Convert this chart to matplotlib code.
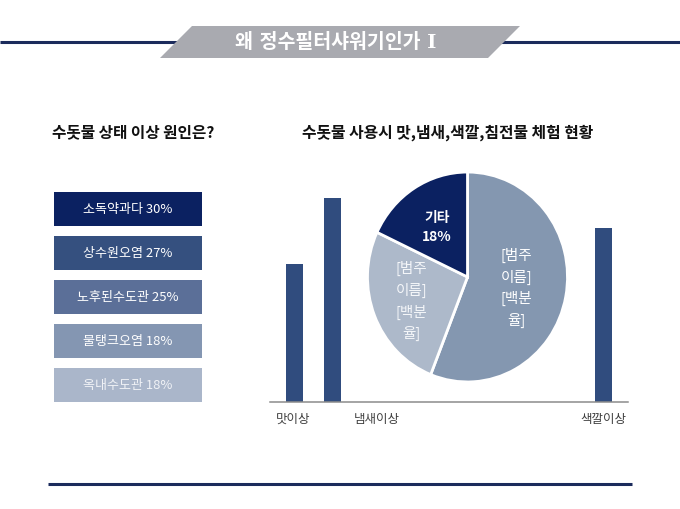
import matplotlib
matplotlib.use("Agg")
import matplotlib.pyplot as plt
from matplotlib.patches import Polygon
import numpy as np

plt.rcParams['font.family'] = ['Noto Sans CJK KR', 'DejaVu Sans']

# --- data ---
page_title = '왜 정수필터샤워기인가 Ⅰ'
left_title = '수돗물 상태 이상 원인은?'
right_title = '수돗물 사용시 맛,냄새,색깔,침전물 체험 현황'

cause_names = ['소독약과다', '상수원오염', '노후된수도관', '물탱크오염', '옥내수도관']
cause_pcts = [30, 27, 25, 18, 18]

bar_values = [46, 68, 58]
bar_ticklabels = ['맛이상', '냄새이상', '색깔이상']

pie_values = [56, 26, 18]
pie_labels = ['[범주\n이름]\n[백분\n율]', '[범주\n이름]\n[백분\n율]', '기타\n18%']

# --- style / layout ---
W, H = 680, 510
navy = '#0b2161'
line_col = '#1b2b5c'
box_colors = ['#0b2161', '#35507f', '#5b6f98', '#8496b2', '#aab6ca']
box_text_colors = ['white', 'white', 'white', 'white', '#f0f2f6']
bar_color = '#304c7e'
pie_colors = ['#8497b0', '#adb9ca', navy]
bar_pos = [24.5, 62.7, 333.3]      # px inside bar axes
tick_pos = [23, 107, 333]


def fig_rect(left, top, right, bottom):
    return [left / W, (H - bottom) / H, (right - left) / W, (bottom - top) / H]


fig = plt.figure(figsize=(6.8, 5.1), dpi=100)

# background / decorations in pixel coordinates
bg = fig.add_axes([0, 0, 1, 1], zorder=0)
bg.set_xlim(0, W)
bg.set_ylim(H, 0)
bg.axis('off')
bg.plot([0, W], [43, 43], color=line_col, lw=2.2, solid_capstyle='butt')
bg.add_patch(Polygon([(160, 59), (192, 27), (520, 27), (488, 59)],
                     closed=True, facecolor='#a9aab0', edgecolor='none', zorder=3))
bg.text(336, 43, page_title, color='white', fontsize=14, fontweight='bold',
        family=['DejaVu Serif', 'Noto Sans CJK KR'],
        ha='center', va='center', zorder=4)
bg.plot([48, 632], [485, 485], color=line_col, lw=2.2, solid_capstyle='butt')
bg.text(52, 132, left_title, fontsize=11.3, fontweight='bold', color='#111111',
        ha='left', va='center')
bg.text(447.5, 133, right_title, fontsize=11.4, fontweight='bold', color='#111111',
        ha='center', va='center')

# left: stacked label boxes
n = len(cause_names)
axb = fig.add_axes(fig_rect(54, 193, 202, 403), zorder=1)
axb.patch.set_visible(False)
axb.barh(range(n), [1] * n, height=34 / 44, left=0, color=box_colors)
axb.set_xlim(0, 1)
axb.set_ylim(n - 1 + 17 / 44, -17 / 44)
axb.axis('off')
for i, (name, pct) in enumerate(zip(cause_names, cause_pcts)):
    axb.text(0.5, i, f'{name} {pct}%', color=box_text_colors[i], fontsize=9.4,
             ha='center', va='center')

# right: bars
axc = fig.add_axes(fig_rect(270, 163, 628, 403), zorder=1)
axc.patch.set_visible(False)
axc.bar(bar_pos, bar_values, width=17.5, color=bar_color)
axc.set_xlim(0, 358)
axc.set_ylim(0, 80)
for s in ['top', 'left', 'right']:
    axc.spines[s].set_visible(False)
axc.spines['bottom'].set_color('#8c8c8c')
axc.spines['bottom'].set_linewidth(1.1)
axc.set_yticks([])
axc.set_xticks(tick_pos)
axc.set_xticklabels(bar_ticklabels, fontsize=9, color='#404040')
axc.tick_params(axis='x', length=0, pad=7)

# right: pie
axp = fig.add_axes(fig_rect(366.5, 172, 568.5, 384), zorder=2)
wedges, _ = axp.pie(pie_values, colors=pie_colors, startangle=90, counterclock=False,
                    wedgeprops=dict(edgecolor='white', linewidth=2))
axp.set_aspect('auto')
axp.set_xlim(-1.01, 1.01)
axp.set_ylim(-1.01, 1.01)
axp.axis('off')

label_dist = [0.5, 0.6, 0.57]
for i, (w, lab, d) in enumerate(zip(wedges, pie_labels, label_dist)):
    ang = np.deg2rad((w.theta1 + w.theta2) / 2)
    x, y = d * np.cos(ang), d * np.sin(ang)
    if i == 2:
        axp.text(x, y, lab, color='white', fontsize=10, fontweight='bold',
                 ha='center', va='center', linespacing=1.5)
    else:
        axp.text(x, y, lab, color='white' if i == 0 else '#f4f6f9', fontsize=10.5,
                 ha='center', va='center', linespacing=1.55)

fig.savefig('out.png', dpi=100)
